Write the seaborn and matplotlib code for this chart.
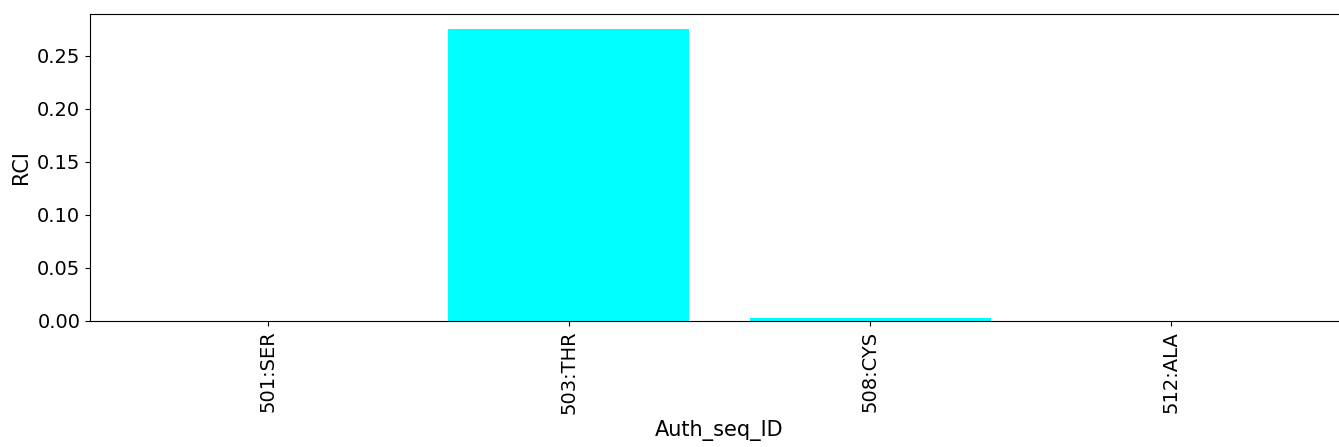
import seaborn as sns
import pandas as pd
import matplotlib.pyplot as plt

# Residue labels and RCI values
residues = ['501:SER', '503:THR', '508:CYS', '512:ALA']
rci = [0.0, 0.2755, 0.0025, 0.0]


def bar_plot(df):
    fig = plt.figure(figsize=(13.39, 4.47), dpi=100)
    # axes run slightly past the right edge of the figure, as in the original
    ax = fig.add_axes([90 / 1339, 1 - 321 / 447, 1259 / 1339, 307 / 447])

    sns.barplot(x='Auth_seq_ID', y='RCI', data=df, color='cyan',
                saturation=1, width=0.8, ax=ax)

    n = len(df)
    pad = 0.05 * (n - 1 + 0.8)
    ax.set_xlim(-0.4 - pad, n - 1 + 0.4 + pad)
    ax.set_ylim(0, df['RCI'].max() * 1.05)

    ax.set_xlabel('Auth_seq_ID', fontsize=15)
    ax.set_ylabel('RCI', fontsize=15)
    ax.tick_params(axis='both', labelsize=14)
    plt.setp(ax.get_xticklabels(), rotation=90)

    fig.savefig('out.png', dpi=100)


def main():
    df = pd.DataFrame({'Auth_seq_ID': residues, 'RCI': rci})
    bar_plot(df)


if __name__ == '__main__':
    main()
